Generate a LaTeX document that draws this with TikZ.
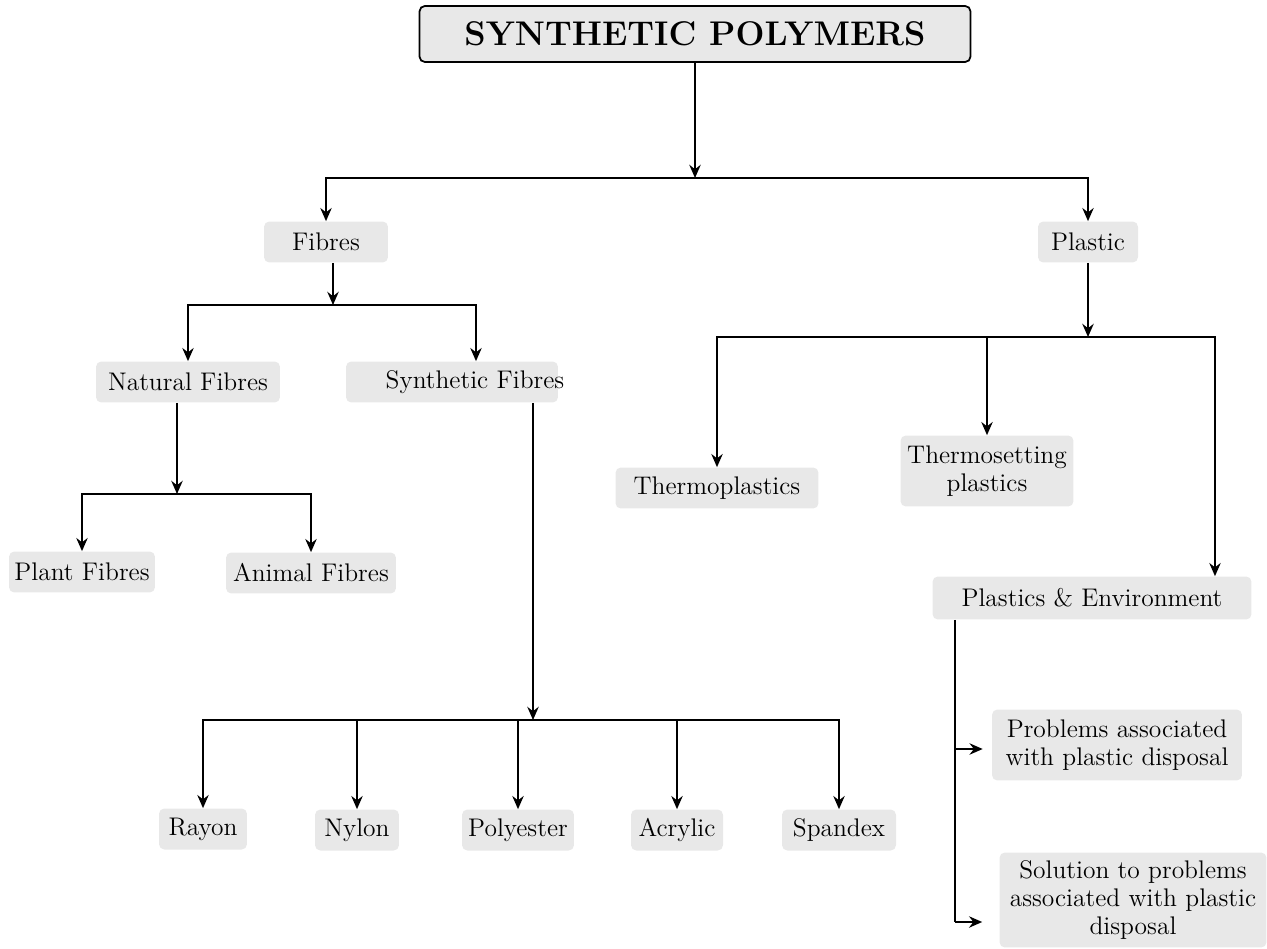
\documentclass[tikz,border=0pt]{standalone}
\usepackage{xcolor}
\usepackage{tikz}
\usetikzlibrary{positioning,arrows.meta}
\definecolor{boxgray}{HTML}{E8E8E8}

\begin{document}
\begin{tikzpicture}[
    x=0.02cm, y=-0.02cm,
    box/.style={fill=boxgray, rounded corners=3pt, minimum height=0.82cm, inner sep=2pt, align=center, font=\fontsize{14.5}{16}\selectfont},
    title/.style={box, draw=black, line width=1pt, minimum width=11.02cm, minimum height=1.12cm, font=\fontsize{19.5}{23}\selectfont\bfseries},
    arr/.style={-{Stealth[length=7.5pt, width=6.5pt, inset=2.5pt]}, line width=1pt},
    link/.style={line width=1pt},
]
\useasboundingbox (0,0) rectangle (1267,949);

% --- ROOT ---
\node[title] (root) at (695,34) {SYNTHETIC POLYMERS};
\coordinate (j1) at (695,178);
\draw[arr] (root) -- (j1);

\node[box, minimum width=2.48cm] (fib) at (326,242) {Fibres};
\node[box, minimum width=2.0cm] (pla) at (1088,242) {Plastic};
\draw[arr] (j1) -| (fib);
\draw[arr] (j1) -| (pla);

% --- FIBRES ---
\node[box, minimum width=3.68cm] (natf) at (188,382) {Natural Fibres};
\node[box, minimum width=4.24cm] (synf) at (452,382) {\makebox[0pt]{\hspace{0.92cm}Synthetic Fibres}};
\coordinate (j2) at (333,305);
\draw[arr] (fib.south -| j2) -- (j2);
\draw[arr] (j2) -| (natf);
\draw[arr] (j2) -| ([xshift=0.48cm]synf.north);

\node[box, minimum width=2.92cm] (plant) at (82,572) {Plant Fibres};
\node[box, minimum width=3.4cm] (animal) at (311,573) {Animal Fibres};
\coordinate (j3) at (177,494);
\draw[arr] (natf.south -| j3) -- (j3);
\draw[arr] (j3) -| (plant);
\draw[arr] (j3) -| (animal);

\node[box, minimum width=1.76cm] (rayon) at (203,829) {Rayon};
\node[box, minimum width=1.68cm] (nylon) at (357,830) {Nylon};
\node[box, minimum width=2.24cm] (poly) at (518,830) {Polyester};
\node[box, minimum width=1.84cm] (acry) at (677,830) {Acrylic};
\node[box, minimum width=2.28cm] (spand) at (839,830) {Spandex};
\coordinate (j5) at (533,720);
\draw[arr] (synf.south -| j5) -- (j5);
\foreach \n in {rayon,nylon,poly,acry,spand} {
    \draw[arr] (j5) -| (\n);
}

% --- PLASTIC ---
\node[box, minimum width=4.06cm] (thp) at (717,488) {Thermoplastics};
\node[box, minimum width=3.46cm, minimum height=1.42cm] (ths) at (987,471) {Thermosetting\\plastics};
\node[box, minimum width=6.38cm, minimum height=0.86cm] (pe) at (1092,598) {Plastics \& Environment};
\coordinate (j4) at (1088,337);
\draw[arr] (pla) -- (j4);
\draw[arr] (j4) -| (thp);
\draw[arr] (j4) -| (ths);
\draw[arr] (j4) -| ([xshift=2.46cm]pe.north);

\node[box, minimum width=5.0cm, minimum height=1.42cm] (prob) at (1117,745) {Problems associated\\with plastic disposal};
\node[box, minimum width=5.34cm, minimum height=1.9cm] (sol) at (1133,900) {Solution to problems\\associated with plastic\\disposal};
\coordinate (k1) at (955,749);
\coordinate (k2) at (955,922);
\draw[link] (pe.south -| k1) -- (k2);
\draw[arr, shorten >=0.18cm] (k1) -- (prob.west |- k1);
\draw[arr, shorten >=0.34cm] (k2) -- (sol.west |- k2);

\end{tikzpicture}
\end{document}
